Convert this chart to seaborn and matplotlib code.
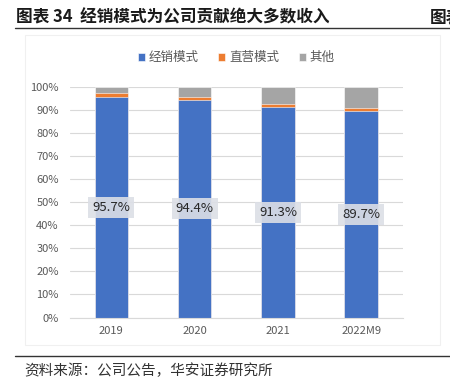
import numpy as np
import pandas as pd
import matplotlib
matplotlib.use("Agg")
import matplotlib.pyplot as plt
import seaborn as sns

years = ["2019", "2020", "2021", "2022M9"]
dist = [95.7, 94.4, 91.3, 89.7]     # 经销模式
direct = [1.9, 1.4, 1.4, 1.3]       # 直营模式
other = [2.4, 4.2, 7.3, 9.0]        # 其他

sns.set_style("white")
plt.rcParams["font.family"] = ["Noto Sans CJK SC", "DejaVu Sans"]

df = pd.DataFrame({"year": years, "dist": dist, "direct": direct, "other": other})
df["s2"] = df["dist"] + df["direct"]
df["s3"] = df["s2"] + df["other"]

fig = plt.figure(figsize=(4.5, 3.92), dpi=100)
ax = fig.add_axes([0.155, 0.19, 0.74, 0.588])

w = 0.4
sns.barplot(data=df, x="year", y="s3", color="#a5a5a5", width=w, ax=ax, saturation=1,
            label="其他", edgecolor="white", linewidth=0.4)
sns.barplot(data=df, x="year", y="s2", color="#ed7d31", width=w, ax=ax, saturation=1,
            label="直营模式", edgecolor="white", linewidth=0.4)
sns.barplot(data=df, x="year", y="dist", color="#4472c4", width=w, ax=ax, saturation=1,
            label="经销模式", edgecolor="white", linewidth=0.4)

for i, v in enumerate(dist):
    ax.text(i, v / 2, f"{v}%", ha="center", va="center", fontsize=9.5, color="#262626",
            bbox=dict(boxstyle="square,pad=0.3", fc="#dcdfe6", ec="none", alpha=0.9))

ax.set_ylim(0, 100)
ax.set_yticks(np.arange(0, 101, 10))
ax.set_yticklabels([f"{t}%" for t in range(0, 101, 10)], fontsize=8, color="#595959")
ax.tick_params(axis="x", labelsize=8, labelcolor="#595959", length=0, pad=6)
ax.tick_params(axis="y", length=0, pad=8)
ax.set_xlabel("")
ax.set_ylabel("")
ax.yaxis.grid(True, color="#d9d9d9", linewidth=0.8)
ax.set_axisbelow(True)
for s in ["top", "right", "left"]:
    ax.spines[s].set_visible(False)
ax.spines["bottom"].set_color("#d9d9d9")
ax.set_xlim(-0.5, 3.5)

h, l = ax.get_legend_handles_labels()
order = [2, 1, 0]
ax.legend([h[k] for k in order], [l[k] for k in order], loc="lower center",
          bbox_to_anchor=(0.5, 1.05), ncol=3, frameon=False, fontsize=9,
          handlelength=0.55, handleheight=0.55, handletextpad=0.3, columnspacing=1.6,
          labelcolor="#595959")

# light frame around chart area
fig.add_artist(plt.Rectangle((0.056, 0.12), 0.922, 0.79, transform=fig.transFigure,
                             fill=False, ec="#f0f0f0", lw=0.8))

fig.text(0.035, 0.955, "图表 34  经销模式为公司贡献绝大多数收入", fontsize=12,
         fontweight="bold", color="#1a1a1a", va="center")
fig.text(0.955, 0.955, "图表", fontsize=12, fontweight="bold", color="#1a1a1a", va="center",
         clip_on=True)
fig.add_artist(plt.Line2D([0.033, 1.0], [0.928, 0.928], color="#333333", linewidth=1))
fig.add_artist(plt.Line2D([0.033, 1.0], [0.092, 0.092], color="#333333", linewidth=1))
fig.text(0.055, 0.055, "资料来源：公司公告，华安证券研究所", fontsize=10.5, color="#333333",
         va="center")

fig.savefig("out.png", dpi=100)
